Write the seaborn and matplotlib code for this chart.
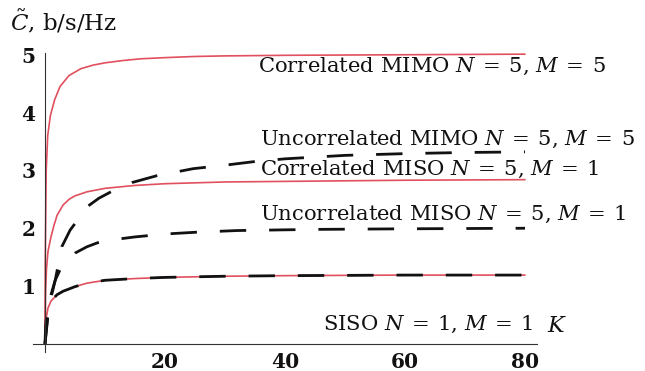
import matplotlib
matplotlib.use("Agg")
import matplotlib.pyplot as plt
import seaborn as sns
from matplotlib.ticker import MultipleLocator

# ---- data ----
# correlated MIMO N=5, M=5 (red solid)
k_corr_mimo = [0, 0.05, 0.2, 0.45, 0.9, 1.6, 2.5, 4, 6, 8, 10, 13, 16, 20, 25, 30, 40, 60, 80]
c_corr_mimo = [0, 1.5, 3.0, 3.6, 3.95, 4.22, 4.45, 4.64, 4.76, 4.82, 4.86, 4.9, 4.93, 4.95, 4.97, 4.98, 4.99, 5.0, 5.01]

# correlated MISO N=5, M=1 (red solid)
k_corr_miso = [0, 0.1, 0.25, 0.5, 1, 1.5, 2, 3, 4, 5, 7, 10, 15, 20, 30, 40, 60, 80]
c_corr_miso = [0, 0.9, 1.3, 1.6, 1.85, 2.05, 2.22, 2.4, 2.5, 2.56, 2.63, 2.69, 2.74, 2.77, 2.8, 2.81, 2.83, 2.84]

# SISO N=1, M=1 (red solid and black dashed lie on top of each other)
k_siso = [0, 0.1, 0.25, 0.5, 1, 2, 3, 5, 7, 10, 15, 20, 30, 40, 60, 80]
c_siso = [0, 0.3, 0.48, 0.62, 0.74, 0.85, 0.91, 0.99, 1.05, 1.1, 1.13, 1.15, 1.17, 1.18, 1.19, 1.19]

# uncorrelated MIMO N=5, M=5 (black dashed)
k_unc_mimo = [0, 0.5, 1, 1.7, 2.8, 4.2, 5.5, 7, 9, 11, 14.5, 18.7, 24.7, 30, 34.7, 40, 50, 60, 70, 80]
c_unc_mimo = [0, 0.5, 0.8, 1.1, 1.68, 1.97, 2.15, 2.37, 2.52, 2.63, 2.79, 2.91, 3.03, 3.09, 3.15, 3.2, 3.26, 3.29, 3.31, 3.32]

# uncorrelated MISO N=5, M=1 (black dashed)
k_unc_miso = [0, 0.5, 1, 1.7, 2.5, 3.5, 5, 7, 8.8, 12, 15, 20, 25, 32, 45, 60, 80]
c_unc_miso = [0, 0.55, 0.85, 1.1, 1.28, 1.43, 1.57, 1.68, 1.75, 1.81, 1.85, 1.9, 1.93, 1.96, 1.98, 1.99, 2.0]

labels = [r"Correlated MIMO $N\:=\:5$, $M\:=\:5$",
          r"Uncorrelated MIMO $N\:=\:5$, $M\:=\:5$",
          r"Correlated MISO $N\:=\:5$, $M\:=\:1$",
          r"Uncorrelated MISO $N\:=\:5$, $M\:=\:1$",
          r"SISO $N\:=\:1$, $M\:=\:1$"]
label_pos = [(35.5, 4.70), (35.8, 3.44), (35.8, 2.92), (35.8, 2.15), (46.3, 0.24)]

sns.set_style("white")
plt.rcParams["font.family"] = ["DejaVu Serif"]
plt.rcParams["mathtext.fontset"] = "dejavuserif"
plt.rcParams["lines.scale_dashes"] = False

red = "#e0505e"
dash = (0, (19, 16.5))

fig = plt.figure(figsize=(6.45, 3.71), dpi=100)
ax = fig.add_axes([33 / 645, 19 / 371, 504 / 645, 299 / 371])

for k, c in [(k_corr_mimo, c_corr_mimo), (k_corr_miso, c_corr_miso), (k_siso, c_siso)]:
    sns.lineplot(x=k, y=c, ax=ax, color=red, lw=1.2, sort=False, estimator=None)
for k, c in [(k_unc_mimo, c_unc_mimo), (k_unc_miso, c_unc_miso), (k_siso, c_siso)]:
    sns.lineplot(x=k, y=c, ax=ax, color="#111111", lw=2.0, linestyle=dash,
                 sort=False, estimator=None)

ax.set_xlim(-2, 82)
ax.set_ylim(-0.14, 5.03)
for s in ["top", "right"]:
    ax.spines[s].set_visible(False)
ax.spines["left"].set_position(("data", 0))
ax.spines["bottom"].set_position(("data", 0))
for s in ["left", "bottom"]:
    ax.spines[s].set_color("#333333")
    ax.spines[s].set_linewidth(0.8)

ax.set_xticks([20, 40, 60, 80])
ax.set_yticks([1, 2, 3, 4, 5])
ax.xaxis.set_minor_locator(MultipleLocator(5))
ax.yaxis.set_minor_locator(MultipleLocator(0.2))
ax.tick_params(which="both", direction="in", colors="#333333", labelcolor="#111111",
               labelsize=14.5)
ax.tick_params(which="major", length=5, width=0.8)
ax.tick_params(which="minor", length=3, width=0.6)
ax.tick_params(axis="x", pad=6)
ax.tick_params(axis="y", pad=7)
for t in ax.get_xticklabels() + ax.get_yticklabels():
    t.set_fontweight("bold")

for txt, (x, y) in zip(labels, label_pos):
    ax.text(x, y, txt, fontsize=15.2, ha="left", va="baseline", color="#111111")

fig.text(10 / 645, 1 - 22 / 371, r"$\tilde{C}$, b/s/Hz", fontsize=16.5,
         ha="left", va="center", color="#111111")
fig.text(547 / 645, 1 - 326 / 371, "$K$", fontsize=16, ha="left", va="center",
         color="#111111")

fig.savefig("out.png", dpi=100)
